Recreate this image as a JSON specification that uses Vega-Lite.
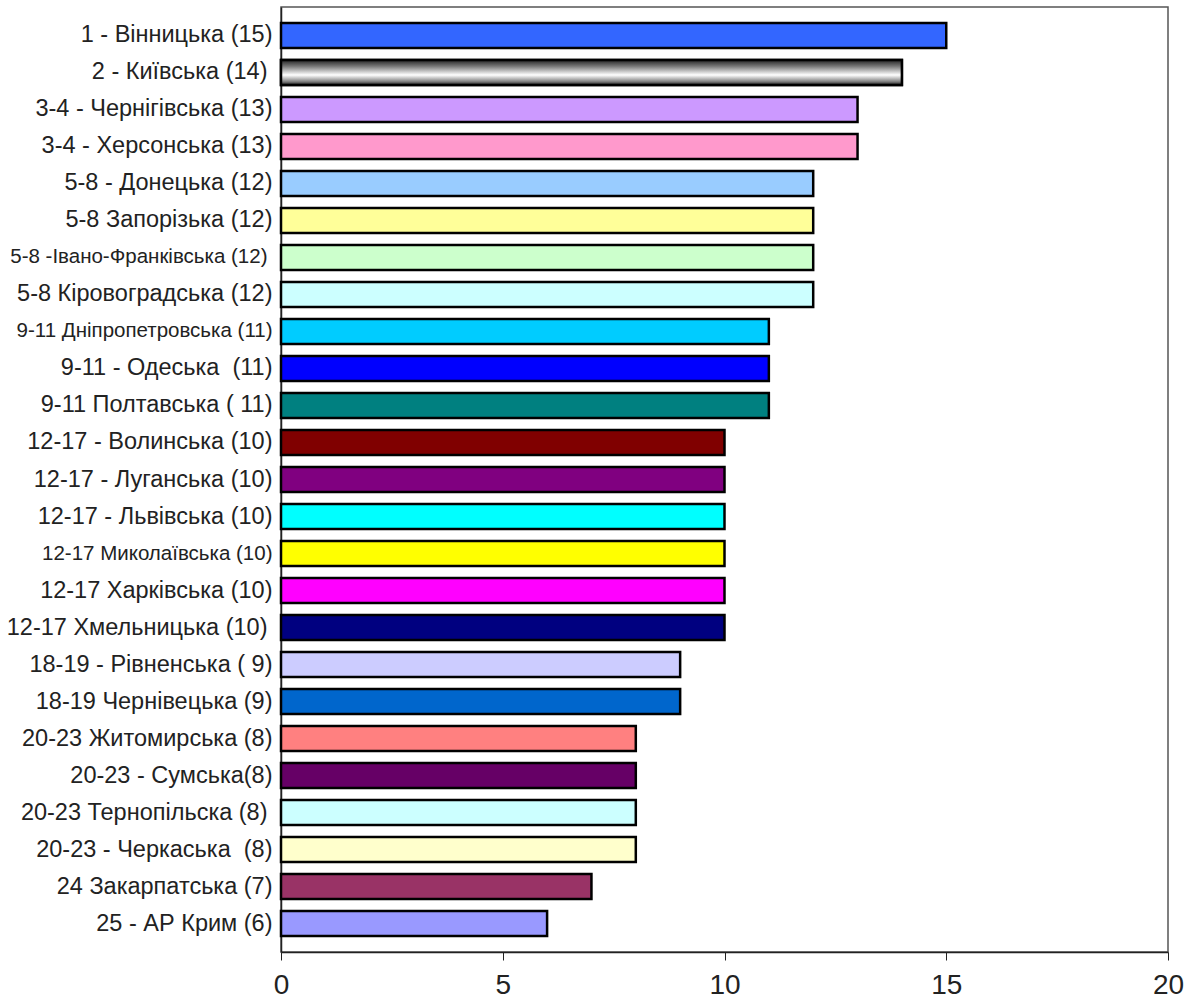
{
  "$schema": "https://vega.github.io/schema/vega-lite/v6.json",
  "autosize": "none",
  "width": 887,
  "height": 945,
  "padding": {"left": 281, "top": 7, "right": 35, "bottom": 48},
  "background": "white",
  "config": {
    "font": "Liberation Sans",
    "view": {"stroke": "#555", "strokeWidth": 1.5},
    "axis": {"labelFont": "Liberation Sans", "labelColor": "#222", "domainColor": "#222", "tickColor": "#222", "grid": false}
  },
  "data": {
    "values": [
      {"region": "1 - Вінницька (15)", "score": 15},
      {"region": "2 - Київська (14)", "score": 14},
      {"region": "3-4 - Чернігівська (13)", "score": 13},
      {"region": "3-4 - Херсонська (13)", "score": 13},
      {"region": "5-8 - Донецька (12)", "score": 12},
      {"region": "5-8 Запорізька (12)", "score": 12},
      {"region": "5-8 -Івано-Франківська (12)", "score": 12},
      {"region": "5-8 Кіровоградська (12)", "score": 12},
      {"region": "9-11 Дніпропетровська (11)", "score": 11},
      {"region": "9-11 - Одеська \u00a0(11)", "score": 11},
      {"region": "9-11 Полтавська ( 11)", "score": 11},
      {"region": "12-17 - Волинська (10)", "score": 10},
      {"region": "12-17 - Луганська (10)", "score": 10},
      {"region": "12-17 - Львівська (10)", "score": 10},
      {"region": "12-17 Миколаївська (10)", "score": 10},
      {"region": "12-17 Харківська (10)", "score": 10},
      {"region": "12-17 Хмельницька (10)", "score": 10},
      {"region": "18-19 - Рівненська ( 9)", "score": 9},
      {"region": "18-19 Чернівецька (9)", "score": 9},
      {"region": "20-23 Житомирська (8)", "score": 8},
      {"region": "20-23 - Сумська(8)", "score": 8},
      {"region": "20-23 Тернопільска (8)", "score": 8},
      {"region": "20-23 - Черкаська \u00a0(8)", "score": 8},
      {"region": "24 Закарпатська (7)", "score": 7},
      {"region": "25 - АР Крим (6)", "score": 6}
    ]
  },
  "encoding": {
    "y": {
      "field": "region",
      "type": "nominal",
      "sort": null,
      "title": null,
      "scale": {"paddingInner": 0.324, "paddingOuter": 0.432},
      "axis": {
        "ticks": false,
        "labelLimit": 400,
        "domainWidth": 1.5,
        "labelPadding": {
          "condition": {
            "test": "indexof(['2 - Київська (14)', '5-8 -Івано-Франківська (12)', '12-17 Хмельницька (10)', '20-23 Тернопільска (8)'], datum.value) >= 0",
            "value": 14
          },
          "value": 9
        },
        "labelFontSize": {
          "condition": {
            "test": "indexof(['5-8 -Івано-Франківська (12)', '9-11 Дніпропетровська (11)', '12-17 Миколаївська (10)'], datum.value) >= 0",
            "value": 20.5
          },
          "value": 23.5
        }
      }
    },
    "x": {
      "field": "score",
      "type": "quantitative",
      "title": null,
      "scale": {"domain": [0, 20], "nice": false},
      "axis": {"values": [0, 5, 10, 15, 20], "labelFontSize": 28, "tickSize": 8, "labelPadding": 11, "domainWidth": 1.5, "labelFlush": false}
    }
  },
  "layer": [
    {
      "mark": {"type": "bar", "stroke": "black", "strokeWidth": 2.5},
      "encoding": {
        "fill": {
          "field": "region",
          "type": "nominal",
          "legend": null,
          "scale": {
            "domain": [
              "1 - Вінницька (15)", "2 - Київська (14)", "3-4 - Чернігівська (13)", "3-4 - Херсонська (13)",
              "5-8 - Донецька (12)", "5-8 Запорізька (12)", "5-8 -Івано-Франківська (12)", "5-8 Кіровоградська (12)",
              "9-11 Дніпропетровська (11)", "9-11 - Одеська \u00a0(11)", "9-11 Полтавська ( 11)",
              "12-17 - Волинська (10)", "12-17 - Луганська (10)", "12-17 - Львівська (10)", "12-17 Миколаївська (10)",
              "12-17 Харківська (10)", "12-17 Хмельницька (10)", "18-19 - Рівненська ( 9)", "18-19 Чернівецька (9)",
              "20-23 Житомирська (8)", "20-23 - Сумська(8)", "20-23 Тернопільска (8)", "20-23 - Черкаська \u00a0(8)",
              "24 Закарпатська (7)", "25 - АР Крим (6)"
            ],
            "range": [
              "#3366FF", "#999999", "#CC99FF", "#FF99CC",
              "#99CCFF", "#FFFF99", "#CCFFCC", "#CCFFFF",
              "#00CCFF", "#0000FF", "#008080",
              "#800000", "#800080", "#00FFFF", "#FFFF00",
              "#FF00FF", "#000080", "#CCCCFF", "#0066CC",
              "#FF8080", "#660066", "#CCFFFF", "#FFFFCC",
              "#993366", "#9999FF"
            ]
          }
        }
      }
    },
    {
      "transform": [{"filter": "datum.score == 14"}],
      "mark": {
        "type": "bar",
        "stroke": "black",
        "strokeWidth": 2.5,
        "fill": {
          "gradient": "linear",
          "x1": 0, "y1": 0, "x2": 0, "y2": 1,
          "stops": [
            {"offset": 0, "color": "#222222"},
            {"offset": 0.25, "color": "#777777"},
            {"offset": 0.6, "color": "#ffffff"},
            {"offset": 0.85, "color": "#888888"},
            {"offset": 1, "color": "#222222"}
          ]
        }
      }
    }
  ]
}
